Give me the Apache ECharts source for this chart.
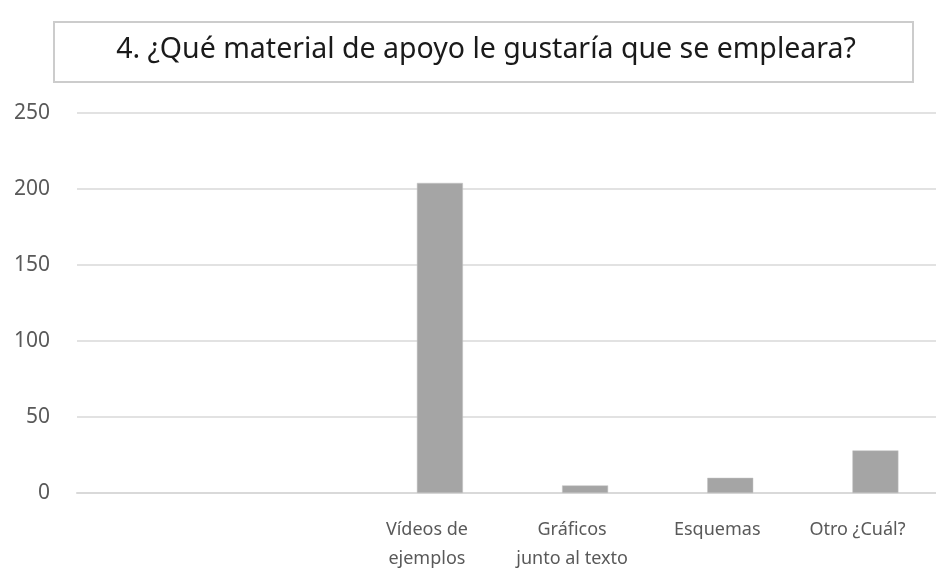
<!DOCTYPE html>
<html>
<head>
<meta charset="utf-8">
<script src="https://cdn.jsdelivr.net/npm/echarts@6/dist/echarts.min.js"></script>
<style>
html,body{margin:0;padding:0;background:#fff;}
#chart{width:936px;height:571px;}
</style>
</head>
<body>
<div id="chart"></div>
<script>
const titleText = '4. ¿Qué material de apoyo le gustaría que se empleara?';
const categories = ['', '', 'Vídeos de\nejemplos', 'Gráficos\njunto al texto', 'Esquemas', 'Otro ¿Cuál?'];
const values = [null, null, 204, 5, 10, 28];
const yMin = 0, yMax = 250, yStep = 50;

const FONT = '"Noto Sans", "Open Sans", sans-serif';
const chart = echarts.init(document.getElementById('chart'), null, {renderer: 'canvas'});

chart.setOption({
  animation: false,
  backgroundColor: '#ffffff',
  graphic: [
    {
      type: 'rect',
      x: 54, y: 22,
      shape: {width: 859, height: 60},
      style: {fill: '#ffffff', stroke: '#cccccc', lineWidth: 2}
    },
    {
      type: 'text',
      x: 486, y: 50,
      style: {
        text: titleText, font: '28.5px ' + FONT, fill: '#1a1a1a',
        align: 'center', verticalAlign: 'middle'
      }
    }
  ],
  grid: {left: 77, width: 871, top: 113, bottom: 78, containLabel: false, outerBoundsMode: 'none'},
  xAxis: {
    type: 'category',
    data: categories.map((c, i) => i === categories.length - 1
      ? {value: c, textStyle: {padding: [0, 36, 0, 0]}}
      : c),
    axisTick: {show: false},
    axisLine: {show: true, lineStyle: {color: '#d9d9d9', width: 2}},
    axisLabel: {
      interval: 0,
      margin: 22,
      color: '#595959',
      fontFamily: FONT,
      fontSize: 18,
      lineHeight: 29,
      padding: [0, 26, 0, 0],
      hideOverlap: false
    }
  },
  yAxis: {
    type: 'value',
    min: yMin, max: yMax, interval: yStep,
    axisLine: {show: false},
    axisTick: {show: false},
    splitLine: {lineStyle: {color: '#d9d9d9', width: 1.5}},
    axisLabel: {margin: 27, color: '#595959', fontFamily: FONT, fontSize: 21}
  },
  series: [{
    type: 'bar',
    data: values,
    barWidth: 46,
    itemStyle: {color: '#a5a5a5', borderColor: '#c4c4c4', borderWidth: 0.5}
  }]
});
</script>
</body>
</html>
